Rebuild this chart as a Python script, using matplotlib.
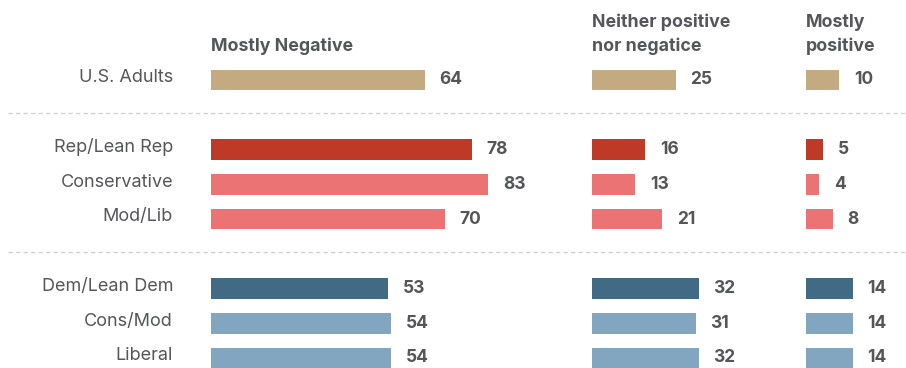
import matplotlib.pyplot as plt

# Data
groups = ["U.S. Adults", "Rep/Lean Rep", "Conservative", "Mod/Lib",
          "Dem/Lean Dem", "Cons/Mod", "Liberal"]
group_sizes = [1, 3, 3]
negative = [64, 78, 83, 70, 53, 54, 54]
neither = [25, 16, 13, 21, 32, 31, 32]
positive = [10, 5, 4, 8, 14, 14, 14]
headers = ["Mostly Negative", "Neither positive\nnor negatice", "Mostly\npositive"]

ROW_COLORS = ["#C4AA80", "#BF3927", "#EC7373", "#EC7373",
              "#436A85", "#82A5C0", "#82A5C0"]
TEXT = "#54565A"
FONT = "Inter"

W, H = 906, 368
PX_PER_UNIT = 3.34   # bar length scale
SLOT_PX = 34.75      # row pitch in pixels
TOP_PX = 80          # pixel y of first row centre
COL_LEFT = [211, 592, 806]

# row slots: one empty slot between groups
slots = []
s = 0
for n in group_sizes:
    slots.extend(range(s, s + n))
    s += n + 1
sep_slots = []
s = 0
for n in group_sizes[:-1]:
    s += n
    sep_slots.append(s)
    s += 1

y_top = -TOP_PX / SLOT_PX
y_bot = (H - TOP_PX) / SLOT_PX

fig = plt.figure(figsize=(W / 100, H / 100), dpi=100)

# background axes in pixel x units for labels and separators
ax0 = fig.add_axes([0, 0, 1, 1])
ax0.set_xlim(0, W)
ax0.set_ylim(y_bot, y_top)
ax0.axis("off")

for sy in sep_slots:
    ax0.hlines(sy - 0.05, 8, W, color="#cfcfcf", lw=0.9, linestyles=(0, (3.5, 2.5)))

for lbl, sy in zip(groups, slots):
    ax0.text(173, sy - 0.06, lbl, ha="right", va="center", fontsize=13,
             color=TEXT, family=FONT)

for left, series, head in zip(COL_LEFT, [negative, neither, positive], headers):
    ax = fig.add_axes([left / W, 0, (W - left) / W, 1])
    ax.set_xlim(0, (W - left) / PX_PER_UNIT)
    ax.set_ylim(y_bot, y_top)
    ax.axis("off")
    ax.patch.set_alpha(0)
    ax.barh(slots, series, height=0.6, color=ROW_COLORS, linewidth=0)
    for v, sy in zip(series, slots):
        ax.text(v + 4.4, sy, str(v), ha="left", va="center",
                fontsize=12.5, fontweight="bold", color=TEXT, family=FONT)
    ax.text(0, -0.72, head, ha="left", va="bottom", fontsize=12.8,
            fontweight="bold", color=TEXT, family=FONT, linespacing=1.45)

fig.savefig("out.png", dpi=100)
